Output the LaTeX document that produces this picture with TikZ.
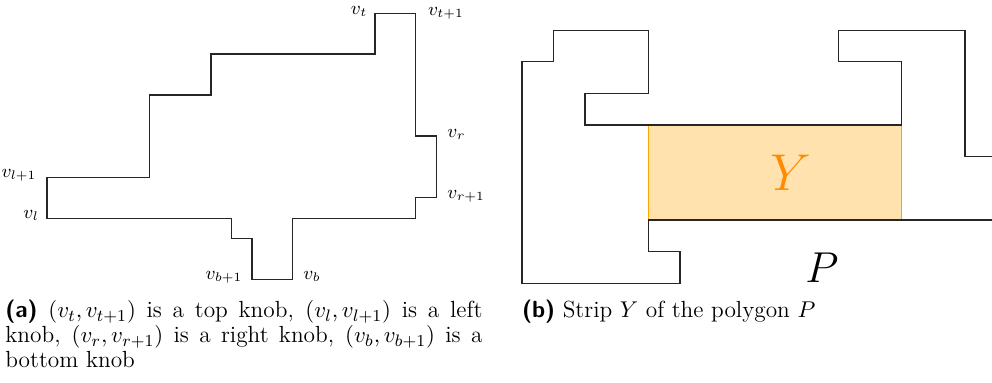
\documentclass[tikz,border=0pt]{standalone}
\usepackage{amsmath}
\definecolor{webOrange}{RGB}{255,165,0}
\definecolor{darkOrange}{RGB}{255,140,0}
\begin{document}
\begin{tikzpicture}[x={(0.48pt,0)},y={(0,-0.48pt)},
  poly/.style={draw=black!85,line width=0.6pt,line join=miter},
  vlab/.style={inner sep=0pt,font=\small},
  caption/.style={inner sep=0pt,font=\fontsize{11.2pt}{12pt}\selectfont},
]
\useasboundingbox (0,0) rectangle (992,383);
% ---------- (a) polygon ----------
\coordinate (vt) at (375,13.3);
\coordinate (vt1) at (415.7,13.3);
\coordinate (vr) at (436.3,136);
\coordinate (vr1) at (436.3,197.3);
\coordinate (vb) at (292.7,279.3);
\coordinate (vb1) at (252,279.3);
\coordinate (vl) at (47,218.3);
\coordinate (vl1) at (47,177.3);
\draw[poly] (vt) -- (vt1) -- (415.7,136) -- (vr) -- (vr1) -- (415.7,197.3)
  -- (415.7,218.3) -- (292.7,218.3) -- (vb) -- (vb1) -- (252,238.7)
  -- (231.3,238.7) -- (231.3,218.3) -- (vl) -- (vl1) -- (149.3,177.3)
  -- (149.3,95) -- (211,95) -- (211,54) -- (375,54) -- cycle;
\node[vlab,anchor=mid east] (lt) at (367.7,10) {$v_t$};
\node[vlab,anchor=mid west] (lt1) at (427.7,11) {$v_{t+1}$};
\node[vlab,anchor=mid west] (lr) at (447,133) {$v_r$};
\node[vlab,anchor=mid west] (lr1) at (447,194) {$v_{r+1}$};
\node[vlab,anchor=mid east] (ll1) at (36.7,173) {$v_{l+1}$};
\node[vlab,anchor=mid east] (ll) at (39.3,214) {$v_l$};
\node[vlab,anchor=mid east] (lb1) at (242.7,275) {$v_{b+1}$};
\node[vlab,anchor=mid west] (lb) at (303,275) {$v_b$};
% ---------- (b) polygon ----------
\fill[webOrange!32] (648.3,125) rectangle (901.7,220);
\draw[webOrange,line width=0.5pt] (648.3,125) -- (648.3,220);
\draw[webOrange,line width=0.5pt] (901.7,125) -- (901.7,220);
\draw[poly] (992,220) -- (648.3,220) -- (648.3,251.7) -- (680,251.7)
  -- (680,283.3) -- (522,283.3) -- (522,61.7) -- (553.3,61.7) -- (553.3,30.3)
  -- (648.3,30.3) -- (648.3,93.3) -- (585,93.3) -- (585,125) -- (901.7,125)
  -- (901.7,61.7) -- (838.3,61.7) -- (838.3,30.3) -- (965,30.3)
  -- (965,156.7) -- (992,156.7);
\node[inner sep=0pt,text=darkOrange,font=\Huge] (Y) at (791,172.5) {$Y$};
\node[inner sep=0pt,font=\huge] (P) at (822,268) {$P$};
% ---------- captions ----------
\node[caption,anchor=base west,text width=229pt,align=justify] (capa) at (5,318)
  {\textsf{\bfseries (a)} $(v_t,v_{t+1})$ is a top knob, $(v_l,v_{l+1})$ is a left\linebreak
   knob, $(v_r,v_{r+1})$ is a right knob, $(v_b,v_{b+1})$ is a\linebreak
   bottom knob};
\node[caption,anchor=base west] (capb) at (521.7,318)
  {\textsf{\bfseries (b)} Strip $Y$ of the polygon $P$};
\end{tikzpicture}
\end{document}
